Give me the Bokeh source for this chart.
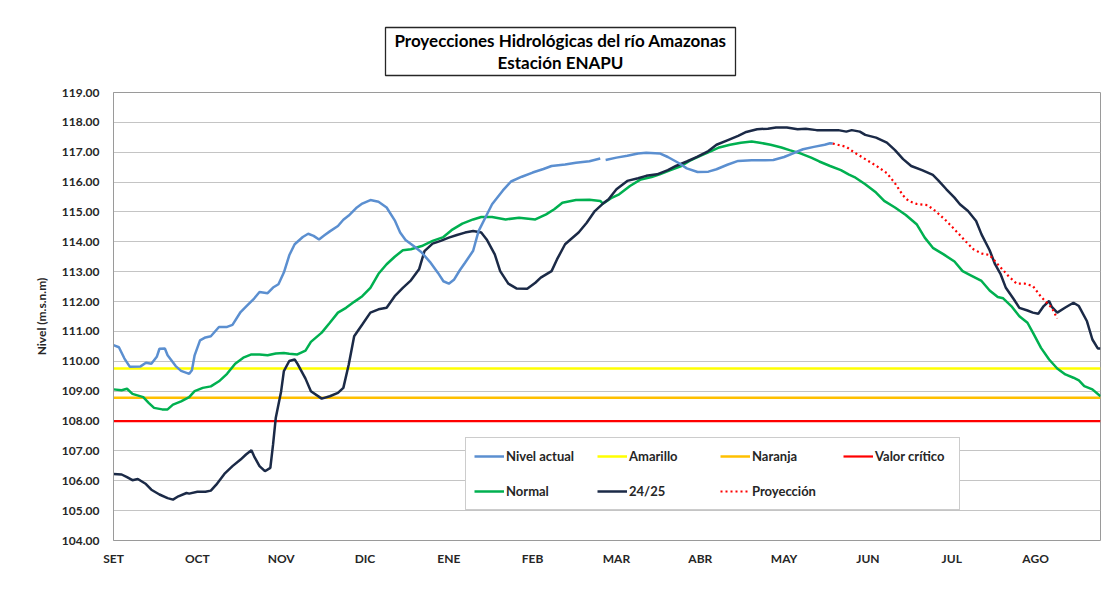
from bokeh.plotting import figure
from bokeh.layouts import column
from bokeh.models import Range1d, FixedTicker, Legend, LegendItem, PrintfTickFormatter
from bokeh.core.properties import value
from bokeh.embed import file_html
from bokeh.resources import INLINE

NAN = float("nan")

# ---------------- data ----------------
meses = ["SET", "OCT", "NOV", "DIC", "ENE", "FEB", "MAR", "ABR", "MAY", "JUN", "JUL", "AGO"]
mes_dia = [0, 31, 62, 93, 124, 155, 186, 217, 248, 279, 310, 341]

nivel_dia = [0, 2, 4, 6, 10, 12, 14, 16, 17, 19, 20, 23, 25, 28, 29, 30, 32, 34, 36, 39, 42, 44, 47, 49,
             52, 54, 57, 59, 61, 63, 65, 67, 70, 72, 74, 76, 78, 80, 83, 85, 87, 90, 92, 95, 98, 101,
             104, 106, 108, 111, 114, 117, 120, 122, 124, 126, 128, 130, 133, 135, 138, 140, 144, 147,
             151, 155, 159, 162, 167, 171, 176, 180, 181, 182, 186, 190, 194, 197, 202, 205, 209, 212,
             216, 220, 223, 227, 231, 236, 241, 244, 248, 252, 255, 259, 263, 265, 266]
nivel_val = [110.54, 110.47, 110.10, 109.82, 109.83, 109.95, 109.92, 110.15, 110.42, 110.43, 110.20,
             109.84, 109.68, 109.58, 109.70, 110.20, 110.70, 110.80, 110.84, 111.15, 111.15, 111.22,
             111.65, 111.83, 112.10, 112.32, 112.28, 112.47, 112.58, 112.97, 113.55, 113.92, 114.16,
             114.27, 114.20, 114.08, 114.22, 114.35, 114.53, 114.74, 114.88, 115.15, 115.28, 115.40,
             115.34, 115.15, 114.72, 114.31, 114.06, 113.86, 113.64, 113.33, 112.96, 112.68, 112.60,
             112.74, 113.04, 113.30, 113.70, 114.36, 114.90, 115.26, 115.72, 116.02, 116.18, 116.32,
             116.44, 116.54, 116.59, 116.65, 116.70, 116.79, NAN, 116.74, 116.82, 116.88, 116.96,
             116.98, 116.96, 116.84, 116.64, 116.46, 116.34, 116.35, 116.43, 116.58, 116.71, 116.73,
             116.73, 116.74, 116.84, 116.99, 117.10, 117.18, 117.25, 117.30, 117.29]

normal_dia = [0, 3, 5, 7, 11, 13, 15, 18, 20, 22, 25, 28, 30, 33, 36, 39, 42, 45, 48, 51, 54, 57, 60,
              63, 65, 68, 71, 73, 77, 80, 83, 86, 89, 92, 95, 98, 101, 104, 107, 110, 114, 118, 122,
              125, 129, 133, 136, 140, 145, 150, 156, 160, 163, 166, 171, 176, 180, 181, 184, 187, 191,
              195, 199, 202, 206, 210, 213, 217, 221, 224, 228, 232, 236, 239, 243, 247, 250, 254, 258,
              261, 265, 269, 272, 274, 278, 282, 285, 289, 293, 297, 300, 303, 307, 311, 314, 317, 321,
              324, 327, 329, 332, 335, 338, 340, 343, 346, 349, 352, 355, 357, 359, 362, 365]
normal_val = [109.06, 109.03, 109.08, 108.91, 108.80, 108.61, 108.44, 108.39, 108.39, 108.55, 108.66,
              108.80, 109.00, 109.11, 109.16, 109.33, 109.58, 109.92, 110.12, 110.23, 110.23, 110.20,
              110.26, 110.28, 110.25, 110.23, 110.36, 110.65, 110.96, 111.29, 111.63, 111.79, 111.99,
              112.18, 112.46, 112.93, 113.25, 113.50, 113.72, 113.75, 113.86, 114.03, 114.16, 114.39,
              114.61, 114.75, 114.83, 114.83, 114.75, 114.81, 114.75, 114.92, 115.09, 115.31, 115.40,
              115.41, 115.37, 115.28, 115.46, 115.59, 115.87, 116.09, 116.17, 116.26, 116.40, 116.54,
              116.71, 116.88, 117.04, 117.16, 117.25, 117.32, 117.36, 117.32, 117.25, 117.16, 117.07,
              116.96, 116.82, 116.69, 116.54, 116.40, 116.25, 116.17, 115.93, 115.65, 115.37, 115.15,
              114.90, 114.59, 114.14, 113.80, 113.58, 113.34, 113.02, 112.88, 112.69, 112.37, 112.15,
              112.11, 111.85, 111.51, 111.29, 110.96, 110.45, 110.06, 109.76, 109.56, 109.45, 109.36,
              109.17, 109.06, 108.83]

anio_dia = [0, 3, 5, 7, 9, 12, 14, 17, 20, 22, 24, 27, 28, 31, 34, 36, 38, 41, 44, 47, 49, 51, 52, 54,
            56, 58, 59, 60, 62, 63, 65, 67, 68, 71, 73, 77, 80, 83, 85, 87, 89, 92, 95, 98, 101, 104,
            107, 110, 113, 115, 118, 121, 124, 127, 130, 133, 136, 138, 141, 143, 146, 149, 153, 156,
            158, 162, 164, 167, 169, 172, 175, 178, 181, 183, 186, 190, 194, 197, 201, 205, 208, 212,
            216, 220, 223, 227, 231, 234, 238, 242, 245, 249, 253, 256, 260, 264, 268, 271, 273, 276,
            278, 282, 286, 289, 292, 295, 299, 303, 305, 308, 311, 313, 316, 319, 321, 324, 326, 328,
            330, 333, 335, 338, 340, 342, 344, 346, 347, 349, 352, 355, 357, 360, 362, 364, 365]
anio_val = [106.23, 106.21, 106.12, 106.02, 106.06, 105.89, 105.70, 105.54, 105.42, 105.37, 105.48,
            105.59, 105.57, 105.63, 105.63, 105.67, 105.87, 106.23, 106.49, 106.71, 106.88, 107.02,
            106.82, 106.49, 106.32, 106.43, 107.21, 108.10, 109.00, 109.67, 110.01, 110.06, 109.92,
            109.42, 109.00, 108.75, 108.83, 108.94, 109.11, 109.89, 110.84, 111.23, 111.63, 111.74,
            111.79, 112.18, 112.46, 112.71, 113.08, 113.69, 113.94, 114.03, 114.14, 114.23, 114.31,
            114.36, 114.31, 114.08, 113.58, 113.02, 112.60, 112.44, 112.43, 112.63, 112.80, 113.02,
            113.41, 113.92, 114.08, 114.31, 114.64, 115.03, 115.28, 115.42, 115.76, 116.04, 116.13,
            116.21, 116.26, 116.40, 116.54, 116.69, 116.85, 117.04, 117.25, 117.40, 117.55, 117.68,
            117.77, 117.79, 117.83, 117.83, 117.77, 117.79, 117.74, 117.74, 117.74, 117.69, 117.74,
            117.69, 117.58, 117.49, 117.32, 117.07, 116.77, 116.54, 116.40, 116.24, 116.06, 115.76,
            115.48, 115.26, 115.03, 114.70, 114.25, 113.72, 113.25, 112.93, 112.46, 112.07, 111.79,
            111.70, 111.63, 111.59, 111.85, 112.02, 111.82, 111.63, 111.80, 111.96, 111.85, 111.34,
            110.73, 110.43, 110.43]

proy_dia = [266, 271, 274, 278, 282, 286, 289, 292, 294, 297, 301, 304, 308, 311, 315, 318, 321, 324,
            327, 331, 334, 337, 340, 343, 347, 349]
proy_val = [117.29, 117.18, 116.99, 116.77, 116.55, 116.30, 115.96, 115.55, 115.37, 115.27, 115.23,
            115.03, 114.70, 114.42, 114.03, 113.75, 113.61, 113.56, 113.25, 112.85, 112.60, 112.60,
            112.52, 112.16, 111.79, 111.43]

umbral_dia = [0, 365]
amarillo = 109.76
naranja = 108.78
critico = 108.00

titulo = ["Proyecciones Hidrológicas del río Amazonas", "Estación ENAPU"]

FONT = "Lato"
LEFT, RIGHT = 113, 10
TOP_H = 80

# ---------------- title strip (pixel-scaled canvas above the chart) ----------------
tf = figure(width=1110, height=TOP_H, output_backend="svg", toolbar_location=None,
            x_range=Range1d(0, 1110 - LEFT - RIGHT), y_range=Range1d(0, TOP_H),
            x_axis_type=None, y_axis_type=None,
            min_border_left=LEFT, min_border_right=RIGHT, min_border_top=0, min_border_bottom=0,
            outline_line_color=None, background_fill_color="white", border_fill_color="white")
tf.grid.visible = False
tf.quad(left=[272], right=[622], top=[53], bottom=[5], fill_color=None,
        line_color="#262626", line_width=1.3)
tf.text(x=[447, 447], y=[40, 18], text=titulo, text_align="center", text_baseline="middle",
        text_font=value(FONT), text_font_style="bold", text_font_size="17px", text_color="black")

# ---------------- main chart ----------------
p = figure(width=1110, height=585 - TOP_H, output_backend="svg", toolbar_location=None,
           x_range=Range1d(0, 365), y_range=Range1d(104, 119),
           min_border_left=LEFT, min_border_right=RIGHT, min_border_top=92 - TOP_H, min_border_bottom=45,
           background_fill_color="white", border_fill_color="white")
p.outline_line_color = "#9a9a9a"
p.xgrid.visible = False
p.ygrid.grid_line_color = "#c4c4c4"
p.ygrid.grid_line_width = 1

p.yaxis.ticker = FixedTicker(ticks=list(range(104, 120)))
p.yaxis.formatter = PrintfTickFormatter(format="%.2f")
p.yaxis.axis_label = "Nivel (m.s.n.m)"
p.yaxis.axis_label_text_font = FONT
p.yaxis.axis_label_text_font_style = "bold"
p.yaxis.axis_label_text_font_size = "12px"
p.yaxis.axis_label_text_color = "#262626"
p.yaxis.axis_label_standoff = 10
p.yaxis.axis_line_color = "#9a9a9a"

p.xaxis.ticker = FixedTicker(ticks=mes_dia)
p.xaxis.major_label_overrides = {d: m for d, m in zip(mes_dia, meses)}
p.xaxis.axis_line_color = None

for ax in (p.xaxis, p.yaxis):
    ax.major_tick_line_color = None
    ax.minor_tick_line_color = None
    ax.major_tick_out = 0
    ax.major_tick_in = 0
    ax.minor_tick_out = 0
    ax.major_label_text_font = FONT
    ax.major_label_text_font_style = "bold"
    ax.major_label_text_font_size = "12px"
    ax.major_label_text_color = "#262626"
p.yaxis.major_label_standoff = 14
p.xaxis.major_label_standoff = 10

r_amar = p.line(umbral_dia, [amarillo, amarillo], line_color="#ffff00", line_width=2.5)
r_nar = p.line(umbral_dia, [naranja, naranja], line_color="#ffc000", line_width=2.5)
r_crit = p.line(umbral_dia, [critico, critico], line_color="#ff0000", line_width=2.2)
r_norm = p.line(normal_dia, normal_val, line_color="#00b050", line_width=2.5)
r_anio = p.line(anio_dia, anio_val, line_color="#1b2a47", line_width=2.5)
r_niv = p.line(nivel_dia, nivel_val, line_color="#5b8fd0", line_width=2.5)
r_proy = p.line(proy_dia, proy_val, line_color="#ff0000", line_width=2.2, line_dash="2 3")

legend = Legend(items=[
    LegendItem(label="Nivel actual", renderers=[r_niv]),
    LegendItem(label="Amarillo", renderers=[r_amar]),
    LegendItem(label="Naranja", renderers=[r_nar]),
    LegendItem(label="Valor crítico", renderers=[r_crit]),
    LegendItem(label="Normal", renderers=[r_norm]),
    LegendItem(label="24/25", renderers=[r_anio]),
    LegendItem(label="Proyección", renderers=[r_proy]),
], location=(352, 30), orientation="horizontal", ncols=4)
legend.glyph_width = 30
legend.glyph_height = 20
legend.label_standoff = 2
legend.label_width = 76
legend.spacing = 15
legend.padding = 8
legend.margin = 0
legend.border_line_color = "#9a9a9a"
legend.border_line_width = 1
legend.background_fill_alpha = 1
legend.label_text_font = FONT
legend.label_text_font_style = "bold"
legend.label_text_font_size = "13px"
legend.label_text_color = "#262626"
p.add_layout(legend, "center")

layout = column(tf, p, spacing=0)
open("out.html", "w").write(file_html(layout, INLINE))
